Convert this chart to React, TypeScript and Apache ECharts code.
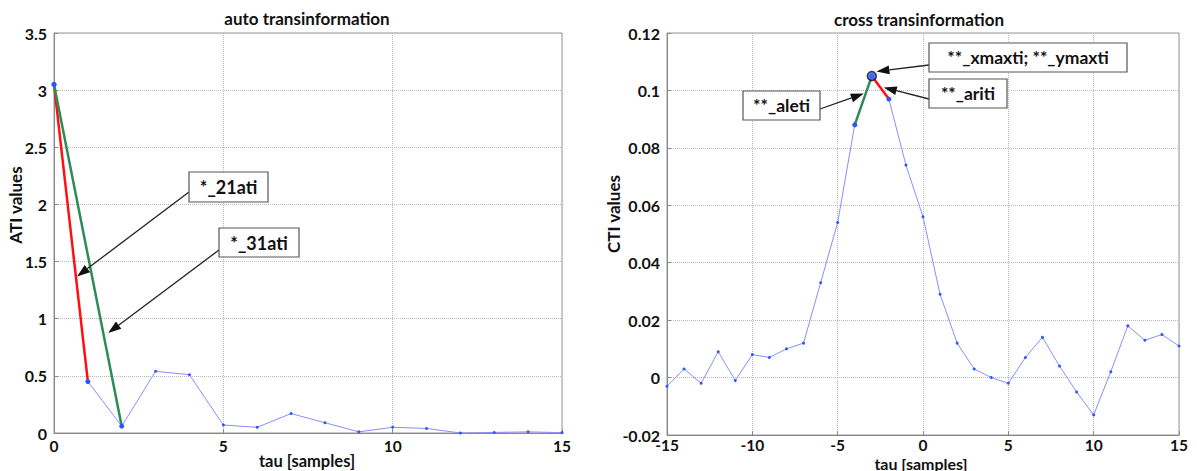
import { useEffect, useRef } from "react";
import * as echarts from "echarts";

const tauAuto = [0, 1, 2, 3, 4, 5, 6, 7, 8, 9, 10, 11, 12, 13, 14, 15];
const atiValues = [3.05, 0.45, 0.06, 0.54, 0.51, 0.07, 0.05, 0.17, 0.09, 0.01, 0.05, 0.04, 0.0, 0.005, 0.01, 0.003];

const tauCross = [-15, -14, -13, -12, -11, -10, -9, -8, -7, -6, -5, -4, -3, -2, -1, 0, 1, 2, 3, 4, 5, 6, 7, 8, 9, 10, 11, 12, 13, 14, 15];
const ctiValues = [-0.003, 0.003, -0.002, 0.009, -0.001, 0.008, 0.007, 0.01, 0.012, 0.033, 0.054, 0.088, 0.105, 0.097, 0.074, 0.056, 0.029, 0.012, 0.003, 0.0, -0.002, 0.007, 0.014, 0.004, -0.005, -0.013, 0.002, 0.018, 0.013, 0.015, 0.011];

const titles = ["auto transinformation", "cross transinformation"];
const yNames = ["ATI values", "CTI values"];
const xName = "tau [samples]";

const FONT = "Lato, 'Open Sans', sans-serif";
const BLUE_LINE = "#8c8cff";
const BLUE_DOT = "#2b55ff";
const RED = "#ff1010";
const GREEN = "#2e8b57";

function pts(xs: number[], ys: number[], from: number, to: number) {
  const out: number[][] = [];
  for (let i = from; i <= to; i++) out.push([xs[i], ys[i]]);
  return out;
}

function axisCommon(isX: boolean, margin: number) {
  return {
    type: "value" as const,
    axisLine: { show: true, onZero: false, lineStyle: { color: "#888", width: 1 } },
    axisTick: { show: true, inside: true, length: 4, lineStyle: { color: "#888" } },
    axisLabel: {
      color: "#111",
      fontWeight: "bold" as const,
      fontSize: isX ? 15.5 : 16,
      lineHeight: isX ? 12 : 18,
      fontFamily: FONT,
      margin,
    },
    splitLine: { show: true, lineStyle: { type: "dotted" as const, color: "#b8b8b8", width: 1 } },
  };
}

function arrow(tail: number[], tip: number[]) {
  const dx = tip[0] - tail[0];
  const dy = tip[1] - tail[1];
  const len = Math.sqrt(dx * dx + dy * dy);
  const ux = dx / len;
  const uy = dy / len;
  const hl = 13;
  const hw = 4.5;
  const bx = tip[0] - ux * hl;
  const by = tip[1] - uy * hl;
  return [
    {
      type: "line",
      shape: { x1: tail[0], y1: tail[1], x2: bx, y2: by },
      style: { stroke: "#222", lineWidth: 1.3 },
      z: 50,
    },
    {
      type: "polygon",
      shape: {
        points: [
          [tip[0], tip[1]],
          [bx - uy * hw, by + ux * hw],
          [bx + uy * hw, by - ux * hw],
        ],
      },
      style: { fill: "#111" },
      z: 51,
    },
  ];
}

function box(x: number, y: number, w: number, h: number, label: string, size: number) {
  return [
    {
      type: "rect",
      shape: { x, y, width: w, height: h },
      style: { fill: "#fff", stroke: "#555", lineWidth: 1.2 },
      z: 52,
    },
    {
      type: "text",
      x: x + w / 2,
      y: y + h / 2,
      style: {
        text: label,
        fill: "#111",
        font: `bold ${size}px ${FONT}`,
        align: "center",
        verticalAlign: "middle",
      },
      z: 53,
    },
  ];
}

function label(x: number, y: number, text: string, size: number, rotate = false) {
  return {
    type: "text",
    x,
    y,
    rotation: rotate ? Math.PI / 2 : 0,
    style: { text, fill: "#111", font: `bold ${size}px ${FONT}`, align: "center", verticalAlign: "middle" },
  };
}

export default function App() {
  const ref = useRef<HTMLDivElement>(null);

  useEffect(() => {
    if (!ref.current) return;
    const chart = echarts.init(ref.current, null, { renderer: "svg" });

    const grids = [
      { left: 54, top: 33, width: 508, height: 400 },
      { left: 667, top: 33, width: 512, height: 402 },
    ];

    const option: any = {
      animation: false,
      backgroundColor: "#fff",
      grid: grids.map((g) => ({
        ...g,
        show: true,
        borderColor: "#999",
        borderWidth: 1,
        backgroundColor: "transparent",
        outerBoundsMode: "none",
        containLabel: false,
      })),
      xAxis: [
        { ...axisCommon(true, 7), gridIndex: 0, min: 0, max: 15, interval: 5 },
        { ...axisCommon(true, 4), gridIndex: 1, min: -15, max: 15, interval: 5 },
      ],
      yAxis: [
        { ...axisCommon(false, 7), gridIndex: 0, min: 0, max: 3.5, interval: 0.5 },
        { ...axisCommon(false, 7), gridIndex: 1, min: -0.02, max: 0.12, interval: 0.02 },
      ],
      series: [
        {
          type: "line",
          xAxisIndex: 0,
          yAxisIndex: 0,
          data: pts(tauAuto, atiValues, 0, tauAuto.length - 1),
          symbol: "circle",
          symbolSize: 3,
          itemStyle: { color: BLUE_DOT },
          lineStyle: { color: BLUE_LINE, width: 1 },
          z: 2,
        },
        {
          type: "line",
          xAxisIndex: 0,
          yAxisIndex: 0,
          data: pts(tauAuto, atiValues, 0, 1),
          symbol: "circle",
          symbolSize: 5,
          itemStyle: { color: BLUE_DOT },
          lineStyle: { color: RED, width: 2.5 },
          z: 3,
        },
        {
          type: "line",
          xAxisIndex: 0,
          yAxisIndex: 0,
          data: [pts(tauAuto, atiValues, 0, 0)[0], pts(tauAuto, atiValues, 2, 2)[0]],
          symbol: "circle",
          symbolSize: 5,
          itemStyle: { color: BLUE_DOT },
          lineStyle: { color: GREEN, width: 2.5 },
          z: 3,
        },
        {
          type: "line",
          xAxisIndex: 1,
          yAxisIndex: 1,
          data: pts(tauCross, ctiValues, 0, tauCross.length - 1),
          symbol: "circle",
          symbolSize: 3,
          itemStyle: { color: BLUE_DOT },
          lineStyle: { color: BLUE_LINE, width: 1 },
          z: 2,
        },
        {
          type: "line",
          xAxisIndex: 1,
          yAxisIndex: 1,
          data: pts(tauCross, ctiValues, 11, 12),
          symbol: "circle",
          symbolSize: 5,
          itemStyle: { color: BLUE_DOT },
          lineStyle: { color: GREEN, width: 2.5 },
          z: 3,
        },
        {
          type: "line",
          xAxisIndex: 1,
          yAxisIndex: 1,
          data: pts(tauCross, ctiValues, 12, 13),
          symbol: "circle",
          symbolSize: 5,
          itemStyle: { color: BLUE_DOT },
          lineStyle: { color: RED, width: 2.5 },
          z: 3,
        },
        {
          type: "scatter",
          xAxisIndex: 1,
          yAxisIndex: 1,
          data: pts(tauCross, ctiValues, 12, 12),
          symbol: "circle",
          symbolSize: 9,
          itemStyle: { color: "#3a6cff", borderColor: "#111", borderWidth: 1.5 },
          z: 4,
        },
      ],
    };

    chart.setOption(option);

    const p0 = (c: number[]) => chart.convertToPixel({ gridIndex: 0 }, c) as number[];
    const p1 = (c: number[]) => chart.convertToPixel({ gridIndex: 1 }, c) as number[];

    const graphic: any[] = [
      label(307, 18, titles[0], 17),
      label(919, 19, titles[1], 17),
      label(15, 205, yNames[0], 17, true),
      label(613, 214, yNames[1], 17, true),
      label(307, 461, xName, 16.5),
      label(921, 463, xName, 16),
      ...arrow([189, 192], p0([0.68, 1.37])),
      ...box(189, 172, 79, 30, "*_21ati", 18),
      ...arrow([219, 250], p0([1.6, 0.875])),
      ...box(219, 228, 80, 29, "*_31ati", 18),
      ...arrow([820, 109], p1([-3.47, 0.0989])),
      ...box(743, 91, 77, 29, "**_aleti", 17.5),
      ...arrow([929, 65], p1([-2.73, 0.1066])),
      ...box(929, 43, 198, 29, "**_xmaxti; **_ymaxti", 17.5),
      ...arrow([929, 99], p1([-2.3, 0.101])),
      ...box(929, 79, 78, 29, "**_ariti", 17.5),
    ];

    chart.setOption({ graphic });

    return () => chart.dispose();
  }, []);

  return (
    <div
      ref={ref}
      style={{ position: "absolute", left: 0, top: 0, width: 1197, height: 471, background: "#fff" }}
    />
  );
}
